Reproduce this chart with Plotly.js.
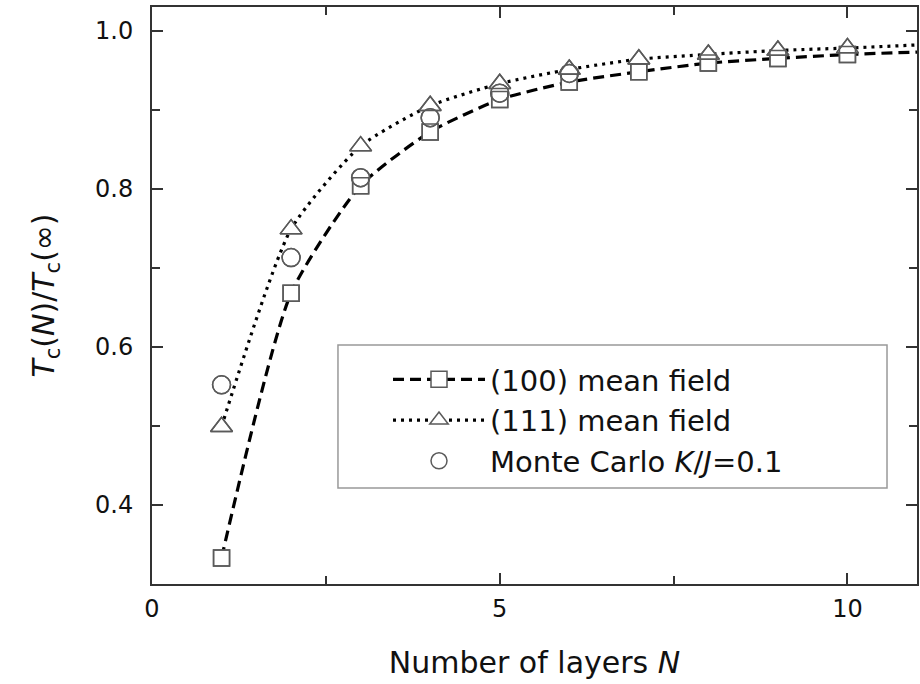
<!DOCTYPE html>
<html>
<head>
<meta charset="utf-8">
<script src="https://cdn.plot.ly/plotly-3.0.1.min.js"></script>
<style>
  html, body { margin: 0; padding: 0; background: #fff; }
  #chart { width: 920px; height: 684px; }
</style>
</head>
<body>
<div id="chart"></div>
<script>
// Critical temperature of thin films vs. number of layers
const layers = [1, 2, 3, 4, 5, 6, 7, 8, 9, 10];
const mf100 = [0.333, 0.668, 0.804, 0.872, 0.913, 0.935, 0.948, 0.959, 0.965, 0.970];
const mf111 = [0.499, 0.749, 0.854, 0.905, 0.933, 0.951, 0.964, 0.970, 0.975, 0.978];
const mcLayers = [1, 2, 3, 4, 5, 6];
const mcK01 = [0.552, 0.713, 0.814, 0.890, 0.921, 0.946];
// curves continue to the right edge of the frame
const edgeLayers = [10, 11];
const mf100Edge = [0.970, 0.973];
const mf111Edge = [0.978, 0.982];

const names = ['(100) mean field', '(111) mean field', 'Monte Carlo <i>K</i>/<i>J</i>=0.1'];

const FONT = 'DejaVu Sans, Liberation Sans, Arial, sans-serif';
const edge = '#5a5a5a';
const dash100 = '11px,6px';
const dot111 = '3px,5px';

const sq = {symbol: 'square', size: 16, color: '#fff', line: {color: edge, width: 1.5}};
const tri = {symbol: 'triangle-up', size: 19, color: '#fff', line: {color: edge, width: 1.5}};
const circ = {symbol: 'circle', size: 18, color: '#fff', line: {color: edge, width: 1.5}};

const traces = [
  {x: edgeLayers, y: mf100Edge, mode: 'lines', showlegend: false, hoverinfo: 'skip',
   line: {color: '#000', width: 3.2, dash: dash100}},
  {x: edgeLayers, y: mf111Edge, mode: 'lines', showlegend: false, hoverinfo: 'skip',
   line: {color: '#000', width: 3.2, dash: dot111}},
  {x: layers, y: mf100, name: names[0], mode: 'lines+markers',
   line: {color: '#000', width: 3.2, dash: dash100, shape: 'spline', smoothing: 0.6}, marker: sq},
  {x: layers, y: mf111, name: names[1], mode: 'lines+markers',
   line: {color: '#000', width: 3.2, dash: dot111, shape: 'spline', smoothing: 0.6}, marker: tri},
  {x: mcLayers, y: mcK01, name: names[2], mode: 'markers', marker: circ},
  // outlines redrawn on top so overlapping symbols stay visible
  {x: layers, y: mf100, mode: 'markers', showlegend: false, hoverinfo: 'skip',
   marker: Object.assign({}, sq, {symbol: 'square-open', color: edge})},
  {x: layers, y: mf111, mode: 'markers', showlegend: false, hoverinfo: 'skip',
   marker: Object.assign({}, tri, {symbol: 'triangle-up-open', color: edge})},
  {x: mcLayers, y: mcK01, mode: 'markers', showlegend: false, hoverinfo: 'skip',
   marker: Object.assign({}, circ, {symbol: 'circle-open', color: edge})}
];

const axisCommon = {
  showline: true, linecolor: '#333', linewidth: 2, mirror: 'ticks',
  ticks: 'inside', ticklen: 11, tickwidth: 2, tickcolor: '#333',
  showgrid: false, zeroline: false,
  tickfont: {family: FONT, size: 24, color: '#111'}
};

const layout = {
  width: 920, height: 684,
  margin: {l: 152, r: 3, t: 7, b: 100},
  paper_bgcolor: '#fff', plot_bgcolor: '#fff',
  font: {family: FONT, color: '#111'},
  xaxis: Object.assign({}, axisCommon, {
    range: [0, 11], tick0: 0, dtick: 5, ticklabelstandoff: 2,
    minor: {dtick: 2.5, ticks: 'inside', ticklen: 8, tickwidth: 2, tickcolor: '#333'},
    title: {text: 'Number of layers <i>N</i>', font: {family: FONT, size: 30, color: '#111'}, standoff: 30}
  }),
  yaxis: Object.assign({}, axisCommon, {
    range: [0.3, 1.03], tick0: 0, dtick: 0.2, tickformat: '.1f', ticklabelstandoff: 12,
    minor: {dtick: 0.1, ticks: 'inside', ticklen: 8, tickwidth: 2, tickcolor: '#333'},
    title: {text: '<i>T</i><sub>c</sub>(<i>N</i>)/<i>T</i><sub>c</sub>(\u221e)', font: {family: FONT, size: 30, color: '#111'}, standoff: 32}
  }),
  legend: {
    x: 0.3085, y: 0.3986, xanchor: 'left', yanchor: 'top',
    bgcolor: 'rgba(0,0,0,0)', borderwidth: 0,
    font: {family: FONT, size: 29, color: '#111'},
    itemsizing: 'trace', itemwidth: 92
  },
  // legend frame
  shapes: [{
    type: 'rect', xref: 'paper', yref: 'paper', layer: 'above',
    x0: 0.2431, x1: 0.9608, y0: 0.1664, y1: 0.4142,
    line: {color: '#999', width: 1.5}, fillcolor: 'rgba(0,0,0,0)'
  }],
  showlegend: true
};

Plotly.newPlot('chart', traces, layout, {displayModeBar: false, staticPlot: true});
</script>
</body>
</html>
